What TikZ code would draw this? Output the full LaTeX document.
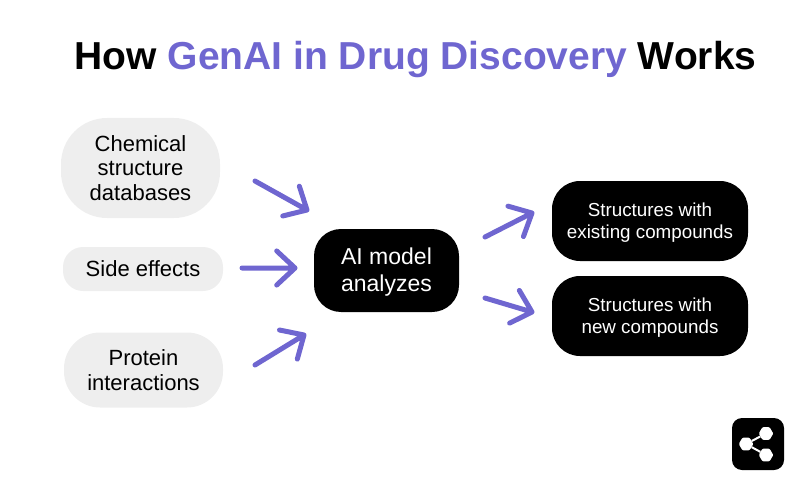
\documentclass[tikz,border=0pt]{standalone}
\usepackage{fontspec}
\setmainfont{Liberation Sans}
\usetikzlibrary{calc,shapes.geometric}
\definecolor{genpurple}{HTML}{6F66D0}
\definecolor{inbox}{HTML}{EEEEEE}
\newcommand{\lowerline}[1]{\rule{0pt}{#1}}
\newcommand{\flowarrow}[2]{\draw[flow] (#1) -- (#2) ($(#2)!25pt!43:(#1)$) -- (#2) -- ($(#2)!25pt!-43:(#1)$);}
\tikzset{
  inbox/.style={fill=inbox,rounded corners=#1,align=center,font=\fontsize{22}{24.5}\selectfont,text=black,inner sep=0pt},
  outbox/.style={fill=black,rounded corners=#1,align=center,text=white,inner sep=0pt},
  flow/.style={draw=genpurple,line width=5pt,line cap=round,line join=round},
}
\begin{document}
\begin{tikzpicture}[x=1pt,y=-1pt]
  \useasboundingbox (0,0) rectangle (800,484);

  \node (title) at (415.5,60) {\fontsize{39}{40}\selectfont\bfseries How \textcolor{genpurple}{GenAI in Drug Discovery} Works};

  % inputs
  \node[inbox=46pt,minimum width=159pt,minimum height=100pt] (chem) at (140.5,168) {Chemical\\structure\\databases};
  \node[inbox=20pt,minimum width=160pt,minimum height=44pt] (side) at (143,269) {Side effects};
  \node[inbox=36pt,minimum width=159pt,minimum height=75pt] (prot) at (143.5,370) {Protein\\interactions};

  % model and outputs
  \node[outbox=27pt,minimum width=145pt,minimum height=83pt,font=\fontsize{23}{27}\selectfont] (model) at (386.5,270.5) {\lowerline{19pt}AI model\\ analyzes};
  \node[outbox=28pt,minimum width=196pt,minimum height=80pt,font=\fontsize{18.8}{22}\selectfont] (known) at (650,221) {\lowerline{17.5pt}Structures with\\existing compounds};
  \node[outbox=28pt,minimum width=196pt,minimum height=80pt,font=\fontsize{18.8}{22}\selectfont] (new) at (650,316) {\lowerline{17.5pt}Structures with\\new compounds};

  % arrows
  \coordinate (chemout) at (255,181);
  \coordinate (chemin) at (307,210);
  \coordinate (sideout) at (242,268);
  \coordinate (sidein) at (295,268);
  \coordinate (protout) at (255,365);
  \coordinate (protin) at (304,335);
  \coordinate (knownout) at (485,237);
  \coordinate (knownin) at (532,213);
  \coordinate (newout) at (485,298);
  \coordinate (newin) at (532,312);
  \flowarrow{chemout}{chemin}
  \flowarrow{sideout}{sidein}
  \flowarrow{protout}{protin}
  \flowarrow{knownout}{knownin}
  \flowarrow{newout}{newin}

  % share badge
  \node[fill=black,rounded corners=10pt,minimum size=52pt,inner sep=0pt] (badge) at (758,444) {};
  \foreach \name/\px/\py in {hubl/746/444,hubt/766/433.5,hubb/766/455}
    \node[fill=white,regular polygon,regular polygon sides=6,minimum size=14.5pt,rounded corners=1pt,inner sep=0pt] (\name) at (\px,\py) {};
  \draw[white,line width=2pt] (hubt) -- (hubl) -- (hubb);
\end{tikzpicture}
\end{document}
